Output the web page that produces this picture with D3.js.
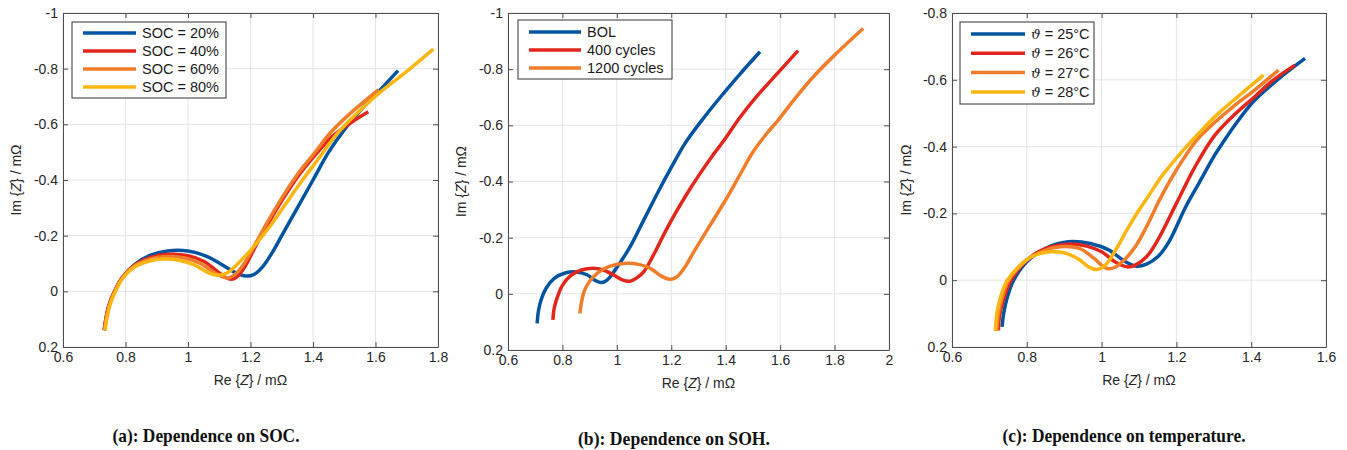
<!DOCTYPE html>
<html>
<head>
<meta charset="utf-8">
<script src="https://cdn.jsdelivr.net/npm/d3@7"></script>
<style>
  body { margin: 0; background: #fff; }
  svg { display: block; }
  .tick text { font-family: "Liberation Sans", Arial, sans-serif; font-size: 14px; fill: #262626; }
</style>
</head>
<body>
<div id="plot"></div>
<script>
var width = 1347;
var height = 450;

// (a) SOC dependence -- points as [Re, Im] in mOhm
var soc20 = [[0.732,0.14],[0.737,0.10],[0.747,0.05],[0.765,0.0],[0.79,-0.05],[0.83,-0.097],[0.88,-0.13],[0.94,-0.146],[1.0,-0.145],[1.06,-0.126],[1.11,-0.095],[1.15,-0.068],[1.185,-0.055],[1.21,-0.06],[1.24,-0.09],[1.27,-0.14],[1.30,-0.20],[1.35,-0.30],[1.40,-0.40],[1.45,-0.50],[1.50,-0.58],[1.56,-0.66],[1.62,-0.73],[1.672,-0.793]];
var soc40 = [[0.732,0.14],[0.737,0.10],[0.747,0.05],[0.765,0.0],[0.79,-0.05],[0.83,-0.095],[0.88,-0.122],[0.94,-0.133],[1.0,-0.128],[1.05,-0.108],[1.09,-0.075],[1.12,-0.05],[1.137,-0.043],[1.155,-0.05],[1.18,-0.085],[1.22,-0.17],[1.26,-0.25],[1.30,-0.325],[1.35,-0.41],[1.40,-0.48],[1.46,-0.555],[1.52,-0.605],[1.577,-0.645]];
var soc60 = [[0.733,0.14],[0.738,0.10],[0.748,0.05],[0.766,0.0],[0.79,-0.048],[0.83,-0.092],[0.88,-0.116],[0.93,-0.125],[0.99,-0.12],[1.04,-0.1],[1.08,-0.07],[1.11,-0.052],[1.128,-0.048],[1.15,-0.06],[1.18,-0.1],[1.22,-0.18],[1.26,-0.26],[1.30,-0.335],[1.35,-0.42],[1.40,-0.49],[1.46,-0.575],[1.53,-0.65],[1.61,-0.725]];
var soc80 = [[0.735,0.14],[0.74,0.10],[0.75,0.05],[0.768,0.0],[0.79,-0.045],[0.83,-0.088],[0.88,-0.11],[0.92,-0.116],[0.97,-0.112],[1.02,-0.095],[1.06,-0.07],[1.095,-0.058],[1.125,-0.066],[1.16,-0.1],[1.21,-0.16],[1.26,-0.23],[1.31,-0.31],[1.36,-0.39],[1.42,-0.48],[1.48,-0.57],[1.55,-0.65],[1.62,-0.72],[1.70,-0.79],[1.785,-0.87]];

// (b) SOH dependence
var bol = [[0.707,0.105],[0.712,0.06],[0.722,0.02],[0.74,-0.02],[0.77,-0.055],[0.81,-0.074],[0.85,-0.078],[0.89,-0.068],[0.92,-0.048],[0.943,-0.04],[0.965,-0.05],[0.99,-0.08],[1.05,-0.17],[1.10,-0.265],[1.15,-0.36],[1.20,-0.45],[1.25,-0.535],[1.31,-0.615],[1.38,-0.70],[1.45,-0.78],[1.526,-0.862]];
var cyc400 = [[0.765,0.093],[0.77,0.05],[0.782,0.01],[0.80,-0.03],[0.83,-0.065],[0.87,-0.085],[0.913,-0.091],[0.95,-0.085],[0.99,-0.066],[1.02,-0.05],[1.048,-0.045],[1.075,-0.058],[1.10,-0.08],[1.13,-0.13],[1.18,-0.225],[1.22,-0.295],[1.26,-0.36],[1.30,-0.42],[1.35,-0.49],[1.40,-0.555],[1.45,-0.625],[1.513,-0.702],[1.59,-0.785],[1.666,-0.866]];
var cyc1200 = [[0.864,0.07],[0.87,0.03],[0.88,-0.01],[0.90,-0.045],[0.93,-0.075],[0.97,-0.097],[1.035,-0.109],[1.08,-0.105],[1.121,-0.092],[1.16,-0.065],[1.194,-0.052],[1.22,-0.06],[1.25,-0.095],[1.28,-0.145],[1.34,-0.24],[1.40,-0.335],[1.45,-0.42],[1.50,-0.505],[1.55,-0.57],[1.59,-0.615],[1.65,-0.69],[1.722,-0.773],[1.80,-0.85],[1.905,-0.945]];

// (c) temperature dependence
var t25 = [[0.734,0.14],[0.738,0.10],[0.748,0.05],[0.765,0.0],[0.80,-0.055],[0.85,-0.095],[0.91,-0.115],[0.97,-0.11],[1.02,-0.09],[1.06,-0.058],[1.094,-0.042],[1.12,-0.048],[1.15,-0.07],[1.18,-0.115],[1.225,-0.22],[1.26,-0.29],[1.30,-0.37],[1.326,-0.415],[1.36,-0.47],[1.406,-0.535],[1.47,-0.6],[1.544,-0.664]];
var t26 = [[0.724,0.15],[0.728,0.10],[0.74,0.05],[0.758,0.0],[0.80,-0.06],[0.85,-0.095],[0.91,-0.108],[0.96,-0.102],[1.0,-0.085],[1.04,-0.052],[1.068,-0.04],[1.09,-0.045],[1.12,-0.07],[1.15,-0.12],[1.20,-0.23],[1.25,-0.34],[1.30,-0.43],[1.35,-0.49],[1.41,-0.55],[1.46,-0.6],[1.517,-0.644]];
var t27 = [[0.72,0.152],[0.724,0.10],[0.735,0.05],[0.752,0.0],[0.80,-0.06],[0.85,-0.09],[0.889,-0.1],[0.94,-0.095],[0.98,-0.065],[1.0,-0.045],[1.014,-0.035],[1.035,-0.038],[1.06,-0.06],[1.09,-0.1],[1.12,-0.16],[1.157,-0.245],[1.20,-0.33],[1.255,-0.42],[1.30,-0.47],[1.352,-0.52],[1.41,-0.57],[1.473,-0.629]];
var t28 = [[0.716,0.152],[0.72,0.10],[0.73,0.05],[0.748,0.0],[0.80,-0.062],[0.83,-0.078],[0.863,-0.085],[0.90,-0.082],[0.94,-0.062],[0.965,-0.04],[0.987,-0.032],[1.01,-0.045],[1.04,-0.095],[1.07,-0.155],[1.10,-0.21],[1.13,-0.26],[1.16,-0.31],[1.219,-0.39],[1.26,-0.44],[1.308,-0.495],[1.37,-0.555],[1.433,-0.614]];

var labelsA = ['SOC = 20%', 'SOC = 40%', 'SOC = 60%', 'SOC = 80%'];
var labelsB = ['BOL', '400 cycles', '1200 cycles'];
var labelsC = ['25°C', '26°C', '27°C', '28°C'];

var xTicksA = [0.6, 0.8, 1, 1.2, 1.4, 1.6, 1.8];
var xTicksB = [0.6, 0.8, 1, 1.2, 1.4, 1.6, 1.8, 2];
var xTicksC = [0.6, 0.8, 1, 1.2, 1.4, 1.6];
var yTicksAB = [-1, -0.8, -0.6, -0.4, -0.2, 0, 0.2];
var yTicksC = [-0.8, -0.6, -0.4, -0.2, 0, 0.2];

var captions = ['(a): Dependence on SOC.', '(b): Dependence on SOH.', '(c): Dependence on temperature.'];

var colors = ['#00549f', '#e1261c', '#f07d2a', '#fdb512'];

var canvas = d3.select('#plot')
    .append('svg')
    .attr('width', width)
    .attr('height', height);

var fmt = function(d) { return String(+d.toFixed(1)); };

function drawPanel(p) {
    var x_scale = d3.scaleLinear().domain(p.xdom).range([p.left, p.right]);
    var y_scale = d3.scaleLinear().domain(p.ydom).range([p.top, p.bottom]);
    var g = canvas.append('g');

    // grid
    g.selectAll('line.gx').data(p.xticks).enter().append('line')
        .attr('x1', function(d) { return x_scale(d); }).attr('x2', function(d) { return x_scale(d); })
        .attr('y1', p.top).attr('y2', p.bottom)
        .attr('stroke', '#e4e4e4').attr('stroke-width', 1);
    g.selectAll('line.gy').data(p.yticks).enter().append('line')
        .attr('y1', function(d) { return y_scale(d); }).attr('y2', function(d) { return y_scale(d); })
        .attr('x1', p.left).attr('x2', p.right)
        .attr('stroke', '#e4e4e4').attr('stroke-width', 1);

    // curves
    var line = d3.line()
        .x(function(d) { return x_scale(d[0]); })
        .y(function(d) { return y_scale(d[1]); })
        .curve(d3.curveCatmullRom.alpha(0.5));
    g.selectAll('path.curve').data(p.series).enter().append('path')
        .attr('d', function(d) { return line(d); })
        .attr('fill', 'none')
        .attr('stroke', function(d, i) { return colors[i]; })
        .attr('stroke-width', 3.5)
        .attr('stroke-linejoin', 'round');

    // axes with inward ticks, box on
    var axes = [
        [d3.axisBottom(x_scale).tickValues(p.xticks).tickFormat(fmt), 'translate(0,' + p.bottom + ')'],
        [d3.axisTop(x_scale).tickValues(p.xticks).tickFormat(''), 'translate(0,' + p.top + ')'],
        [d3.axisLeft(y_scale).tickValues(p.yticks).tickFormat(fmt), 'translate(' + p.left + ',0)'],
        [d3.axisRight(y_scale).tickValues(p.yticks).tickFormat(''), 'translate(' + p.right + ',0)']
    ];
    axes.forEach(function(a) {
        var ag = g.append('g').attr('transform', a[1])
            .call(a[0].tickSizeInner(-5).tickSizeOuter(0).tickPadding(5));
        ag.select('.domain').attr('stroke', '#4d4d4d');
        ag.selectAll('.tick line').attr('stroke', '#4d4d4d');
    });

    // axis labels
    var xl = g.append('text')
        .attr('x', (p.left + p.right) / 2).attr('y', p.bottom + 38)
        .attr('text-anchor', 'middle')
        .attr('font-family', '"Liberation Sans", Arial, sans-serif').attr('font-size', 14).attr('fill', '#262626');
    xl.append('tspan').text('Re {');
    xl.append('tspan').attr('font-style', 'italic').text('Z');
    xl.append('tspan').text('} / mΩ');

    var yl = g.append('text')
        .attr('transform', 'translate(' + p.ylabx + ',' + (p.top + p.bottom) / 2 + ') rotate(-90)')
        .attr('text-anchor', 'middle')
        .attr('font-family', '"Liberation Sans", Arial, sans-serif').attr('font-size', 14).attr('fill', '#262626');
    yl.append('tspan').text('Im {');
    yl.append('tspan').attr('font-style', 'italic').text('Z');
    yl.append('tspan').text('} / mΩ');

    // legend
    var L = p.legend;
    g.append('rect')
        .attr('x', L.x).attr('y', L.y).attr('width', L.w).attr('height', L.h)
        .attr('fill', '#fff').attr('stroke', '#333').attr('stroke-width', 1);
    var items = g.selectAll('g.leg').data(p.labels).enter().append('g')
        .attr('transform', function(d, i) { return 'translate(0,' + (L.y0 + i * L.dy) + ')'; });
    items.append('line')
        .attr('x1', L.lx1).attr('x2', L.lx2).attr('y1', 0).attr('y2', 0)
        .attr('stroke', function(d, i) { return colors[i]; })
        .attr('stroke-width', 3.5);
    var t = items.append('text')
        .attr('x', L.tx).attr('y', 5)
        .attr('font-family', '"Liberation Sans", Arial, sans-serif').attr('font-size', 14.5).attr('fill', '#1a1a1a');
    if (p.theta) {
        t.append('tspan').attr('font-family', '"DejaVu Serif", serif').attr('font-style', 'italic').attr('font-size', 13.5).text('ϑ');
        t.append('tspan').text(function(d) { return ' = ' + d; });
    } else {
        t.text(function(d) { return d; });
    }

    // caption
    canvas.append('text')
        .attr('x', p.capx).attr('y', p.capy)
        .attr('text-anchor', 'middle')
        .attr('font-family', '"Liberation Serif", "Times New Roman", serif')
        .attr('font-weight', 'bold').attr('font-size', 19).attr('fill', '#111')
        .attr('textLength', p.capw).attr('lengthAdjust', 'spacingAndGlyphs')
        .text(p.caption);
}

drawPanel({
    left: 63, right: 438, top: 13, bottom: 347, xdom: [0.6, 1.8], ydom: [-1, 0.2],
    xticks: xTicksA, yticks: yTicksAB, series: [soc20, soc40, soc60, soc80], labels: labelsA,
    ylabx: 21, legend: { x: 72, y: 22, w: 154, h: 76, y0: 33, dy: 18, lx1: 83, lx2: 136, tx: 142 },
    caption: captions[0], capx: 206, capy: 442, capw: 187
});
drawPanel({
    left: 508, right: 889, top: 13, bottom: 350, xdom: [0.6, 2], ydom: [-1, 0.2],
    xticks: xTicksB, yticks: yTicksAB, series: [bol, cyc400, cyc1200], labels: labelsB,
    ylabx: 466, legend: { x: 518, y: 20, w: 154, h: 59, y0: 32, dy: 18, lx1: 529, lx2: 581, tx: 587 },
    caption: captions[1], capx: 674, capy: 445, capw: 192
});
drawPanel({
    left: 952, right: 1326, top: 13, bottom: 347, xdom: [0.6, 1.6], ydom: [-0.8, 0.2],
    xticks: xTicksC, yticks: yTicksC, series: [t25, t26, t27, t28], labels: labelsC, theta: true,
    ylabx: 911, legend: { x: 960, y: 22, w: 134, h: 82, y0: 34, dy: 19.3, lx1: 971, lx2: 1025, tx: 1031 },
    caption: captions[2], capx: 1124, capy: 442, capw: 243
});
</script>
</body>
</html>
